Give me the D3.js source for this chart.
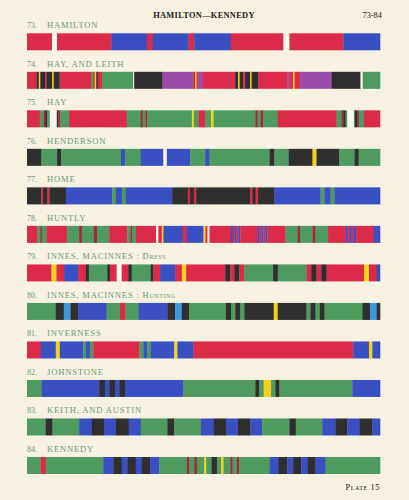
<!DOCTYPE html>
<html>
<head>
<meta charset="utf-8">
<script src="https://cdn.jsdelivr.net/npm/d3@7"></script>
<style>
    body { margin: 0; background: #f7f1e1; }
    #plate { width: 409px; height: 500px; }
    .plateTitle { font-family: "Liberation Serif", serif; font-size: 8.4px; letter-spacing: 0.6px; fill: #222; }
    .plateLabel { font-family: "Liberation Serif", serif; font-size: 8.6px; letter-spacing: 0.8px; fill: #6a9c74; }
    .plateNumber { font-family: "Liberation Serif", serif; font-size: 8px; fill: #6a9c74; }
</style>
</head>
<body>
<div id="plate"></div>
<script>

// plate numbers and tartan names, top to bottom
var plateNumbers = [73, 74, 75, 76, 77, 78, 79, 80, 81, 82, 83, 84];
var tartanNames = ["HAMILTON", "HAY, AND LEITH", "HAY", "HENDERSON", "HOME", "HUNTLY",
    "INNES, MACINNES", "INNES, MACINNES", "INVERNESS", "JOHNSTONE", "KEITH, AND AUSTIN", "KENNEDY"];
var tartanVariants = ["", "", "", "", "", "", "Dress", "Hunting", "", "", "", ""];

// one letter per stripe, read left to right
var stripeColors = [
    "rwrbrbrbrwrb",
    "rkykrkykrgrykrgwkpryrprkykrkykrpryrpkwg",
    "rgdkgwkdgrgdgdgygrgygdgdgrgdkgwgkdgr",
    "kgkgbgbwbgbgkgkykgkg",
    "krkrkbgbgbkrkrkrkrkbgbgb",
    "rgdgrgdgdgrgdgrwrybrbyrwrbrbrbrbrbrbrgdgdgrbrbrbrb",
    "ryrbrkgkrwrkgkrbryrkrkrgkgrkrkryrb",
    "gklkbgrgbklkgkgkgkykgkgkgklk",
    "rbybgbgrgbgbybrbyb",
    "gbkbkbkbgkgygkgb",
    "gkgbkbkbgkgbkbkbgkgbkbkb",
    "grgbkbkbkbgdgdgygkgygdgdgbkbkbkbg"
];

// stripe widths (thread units) in the same order
var stripeWidths = [
    [75, 15, 163, 107, 18, 107, 17, 110, 158, 18, 162, 110],
    [9.8, 2, 1.5, 5, 1.5, 5.5, 1.5, 5.8, 31.4, 2.3, 1.5, 1.5, 1.5, 4.2, 31.3, 1, 28.3, 30.7, 2, 1.5,
        1.5, 4.7, 32.3, 3, 1.5, 3.5, 2, 5, 1.5, 6.8, 29.2, 1.8, 3.7, 1.5, 5.5, 31.7, 28.8, 2.2, 17.3],
    [12.7, 4, 2, 1.5, 2.5, 7, 1.5, 2, 8.8, 57.4, 14, 2, 2.6, 2, 44.4, 2, 4.6, 6.7, 5.7, 2.6,
        41.7, 2.3, 3, 2.4, 14.6, 58.7, 4.7, 2, 2.3, 1.7, 6.6, 1, 2, 2, 5, 16],
    [14.4, 15.6, 4, 59.7, 4.3, 15.4, 22.6, 3.4, 23.3, 15, 4.3, 60, 4.7, 14.3, 23.7, 4, 22.7, 15.3, 4, 21.3],
    [14.4, 1.6, 4.4, 2, 16.3, 46.3, 3.7, 6, 3.7, 46.3, 15.7, 2, 4, 2.3, 53.7, 2.3, 3.3, 2.4, 16.3,
        46, 4, 6, 4, 45.3],
    [10.4, 2.8, 1.5, 4.7, 20.6, 12, 2.7, 12, 3, 12.3, 18, 3.2, 1.5, 4, 20, 2.3, 3.4, 1.6, 19.4, 4,
        16.6, 2, 2, 2, 21.4, 1.8, 1.8, 1.9, 1.8, 2, 17.3, 1.9, 1.8, 2, 2, 2, 18, 12, 2.5, 12.5,
        3, 12.5, 17.5, 2, 2, 2, 2, 2.5, 17.5, 6.3],
    [24.4, 5, 7.6, 14, 7.7, 3, 18.3, 2.7, 6.7, 5, 6.6, 3.4, 19, 2.6, 6.7, 15, 6.7, 4.3, 39, 5,
        4, 5, 5, 28.7, 4.6, 28.7, 4.7, 5.3, 4.7, 5.3, 37.3, 5, 7.7, 3.3],
    [28.7, 8, 6.7, 7.6, 28.4, 13.3, 5.3, 13.4, 28.6, 7.7, 6.7, 7.3, 36.7, 5, 4.3, 5, 4, 29.3, 4, 28.7,
        4, 5, 4.3, 4.7, 37.7, 7.6, 6.7, 3.3],
    [13.7, 15, 4, 23.3, 2.7, 4, 3.3, 46, 4, 4, 3.4, 23.3, 3.3, 16, 159.4, 15.6, 3.4, 7.6],
    [14.4, 57.6, 5.7, 4.3, 5.7, 4.3, 5.7, 58.3, 71.7, 4, 4.3, 7.4, 4.3, 4, 72.7, 27.6],
    [18.7, 6.7, 26.6, 12.7, 12, 12, 12.7, 12, 26.6, 6.7, 26.7, 12.6, 12.4, 12, 12.3, 11.7, 27.3, 6.3,
        26.4, 13.3, 11.7, 12.3, 12.7, 7.6],
    [13.4, 5.3, 57.3, 10, 8.4, 5.6, 8.4, 6, 8.3, 9.3, 27.4, 2.6, 4.7, 2.7, 7.3, 2, 5.3, 5.4, 4.3, 2.3,
        6.7, 2.3, 4.4, 2.3, 30.3, 9, 8.4, 6, 8, 6.6, 7.7, 10, 54.3]
];

var threadColors = {
    r: "#dc2b48", d: "#a3293d", b: "#3a4fc2", l: "#3f98dc", g: "#4f9a5e",
    k: "#2f2f2f", y: "#f3d21c", p: "#9a4cab", w: "#faf6ec"
};

/**
 * Constructor for the tartan plate
 */
function TartanPlate() {
    var self = this;
    self.init();
};

/**
 * Sets up the svg and the scales
 */
TartanPlate.prototype.init = function () {
    var self = this;
    self.svgWidth = 409;
    self.svgHeight = 500;
    self.stripHeight = 17;

    self.svg = d3.select("#plate").append("svg")
        .attr("width", self.svgWidth)
        .attr("height", self.svgHeight);

    // strips are evenly spaced down the page
    self.yScale = d3.scaleLinear()
        .domain([0, plateNumbers.length - 1])
        .range([33.3, 457]);
};

/**
 * Draws the header, every strip with its label, and the footer
 */
TartanPlate.prototype.update = function () {
    var self = this;

    self.svg.append("text")
        .attr("class", "plateTitle")
        .attr("x", 204)
        .attr("y", 18)
        .attr("text-anchor", "middle")
        .style("font-weight", "bold")
        .style("letter-spacing", "0.3px")
        .text("HAMILTON—KENNEDY");
    self.svg.append("text")
        .attr("class", "plateTitle")
        .attr("x", 382)
        .attr("y", 18)
        .attr("text-anchor", "end")
        .style("letter-spacing", "0px")
        .text("73-84");

    var groups = self.svg.selectAll("g.tartan")
        .data(plateNumbers)
        .enter()
        .append("g")
        .attr("class", "tartan")
        .attr("transform", function (d, i) {
            return "translate(0," + self.yScale(i) + ")";
        });

    groups.each(function (num, i) {
        var g = d3.select(this);
        var widths = stripeWidths[i];
        var colors = stripeColors[i].split("");

        // running start of each stripe
        var starts = [];
        var total = 0;
        widths.forEach(function (w) {
            starts.push(total);
            total += w;
        });

        var xScale = d3.scaleLinear()
            .domain([0, total])
            .range([27, 380]);

        g.selectAll("rect")
            .data(widths)
            .enter()
            .append("rect")
            .attr("x", function (d, j) { return xScale(starts[j]); })
            .attr("width", function (d, j) { return xScale(starts[j] + d) - xScale(starts[j]) + 0.3; })
            .attr("y", 0)
            .attr("height", self.stripHeight)
            .attr("fill", function (d, j) { return threadColors[colors[j]]; });

        g.append("text")
            .attr("class", "plateNumber")
            .attr("x", 27)
            .attr("y", -5)
            .text(num + ".");

        var label = g.append("text")
            .attr("class", "plateLabel")
            .attr("x", 47)
            .attr("y", -5)
            .text(tartanNames[i] + (tartanVariants[i] ? " :  " : ""));
        if (tartanVariants[i]) {
            label.append("tspan")
                .style("font-variant", "small-caps")
                .style("letter-spacing", "0.6px")
                .text(tartanVariants[i]);
        }
    });

    self.svg.append("text")
        .attr("class", "plateTitle")
        .attr("x", 380)
        .attr("y", 490)
        .attr("text-anchor", "end")
        .style("font-variant", "small-caps")
        .style("letter-spacing", "0.6px")
        .text("Plate 15");
};

var plate = new TartanPlate();
plate.update();
</script>
</body>
</html>
